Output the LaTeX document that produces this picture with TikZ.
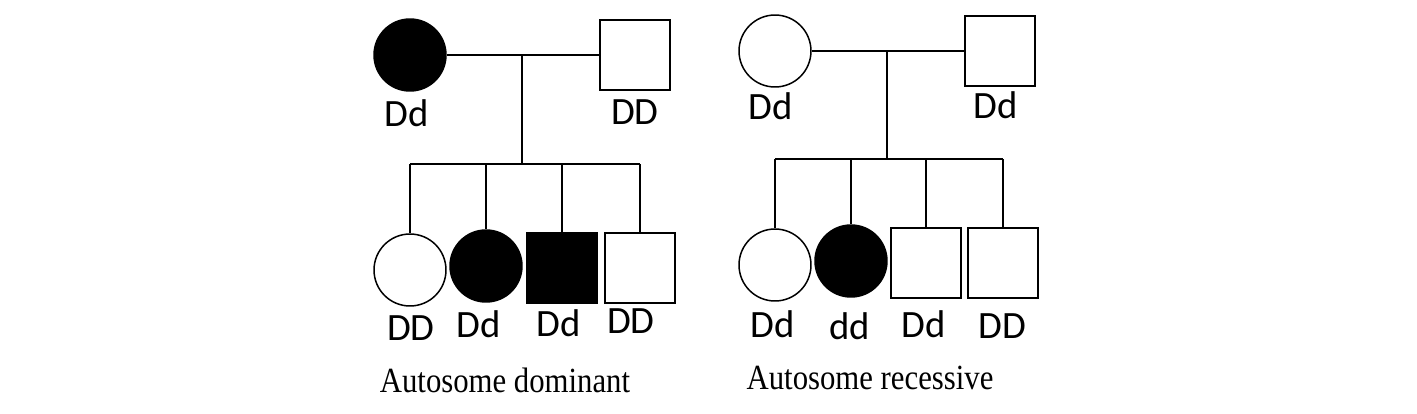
\documentclass[tikz,border=0pt]{standalone}
\usepackage{fontspec}
\usepackage{tikz}
\newfontfamily\genofont{Carlito}
\newfontfamily\capfont{Liberation Serif}

\tikzset{
  fem/.style={circle,draw,line width=0.85pt,inner sep=0pt,minimum size=1.44cm},
  femfill/.style={fem,fill=black},
  male/.style={rectangle,draw,line width=0.85pt,inner sep=0pt,minimum size=1.4cm},
  malefill/.style={male,fill=black},
  geno/.style={inner sep=0pt,font=\genofont\fontsize{22}{24}\selectfont},
  captxt/.style={inner sep=0pt,font=\capfont\fontsize{17.5}{19}\selectfont},
  pline/.style={line width=1.2pt}
}
\newcommand{\captall}[1]{\scalebox{1}[1.15]{#1}}

\begin{document}
\begin{tikzpicture}[x=0.02cm,y=-0.02cm]
\useasboundingbox (0,0) rectangle (1417,413);

% autosome dominant
\node[femfill] (mom1) at (410,55) {};
\node[male] (dad1) at (635,55) {};
\coordinate (m1) at (522,55);
\coordinate (s1) at (522,164);
\node[fem] (c11) at (410,270) {};
\node[femfill] (c12) at (486,266) {};
\node[malefill] (c13) at (562,268) {};
\node[male] (c14) at (640,268) {};

\draw[pline] (mom1.east) -- (dad1.west);
\draw[pline] (m1) -- (s1);
\draw[pline] (c11 |- s1) -- (c14 |- s1);
\draw[pline] (c11 |- s1) -- (c11.north);
\draw[pline] (c12 |- s1) -- (c12.north);
\draw[pline] (c13 |- s1) -- (c13.north);
\draw[pline] (c14 |- s1) -- (c14.north);

\node[geno] (g-mom1) at (407,113) {Dd};
\node[geno] (g-dad1) at (635,112) {DD};
\node[geno] (g-c11) at (411,328) {DD};
\node[geno] (g-c12) at (479,324) {Dd};
\node[geno] (g-c13) at (559,323) {Dd};
\node[geno] (g-c14) at (631,321) {DD};

% autosome recessive
\node[fem] (mom2) at (775,51) {};
\node[male] (dad2) at (1000,51) {};
\coordinate (m2) at (887,51);
\coordinate (s2) at (887,159);
\node[fem] (c21) at (775,265) {};
\node[femfill] (c22) at (851,261) {};
\node[male] (c23) at (926,263) {};
\node[male] (c24) at (1003,263) {};

\draw[pline] (mom2.east) -- (dad2.west);
\draw[pline] (m2) -- (s2);
\draw[pline] (c21 |- s2) -- (c24 |- s2);
\draw[pline] (c21 |- s2) -- (c21.north);
\draw[pline] (c22 |- s2) -- (c22.north);
\draw[pline] (c23 |- s2) -- (c23.north);
\draw[pline] (c24 |- s2) -- (c24.north);

\node[geno] (g-mom2) at (771,106) {Dd};
\node[geno] (g-dad2) at (996,105) {Dd};
\node[geno] (g-c21) at (773,324) {Dd};
\node[geno] (g-c22) at (850,326) {dd};
\node[geno] (g-c23) at (924,324) {Dd};
\node[geno] (g-c24) at (1002,326) {DD};

\node[captxt] (cap-dom) at (505,380) {\captall{Autosome dominant}};
\node[captxt] (cap-rec) at (870,378) {\captall{Autosome recessive}};
\end{tikzpicture}
\end{document}
